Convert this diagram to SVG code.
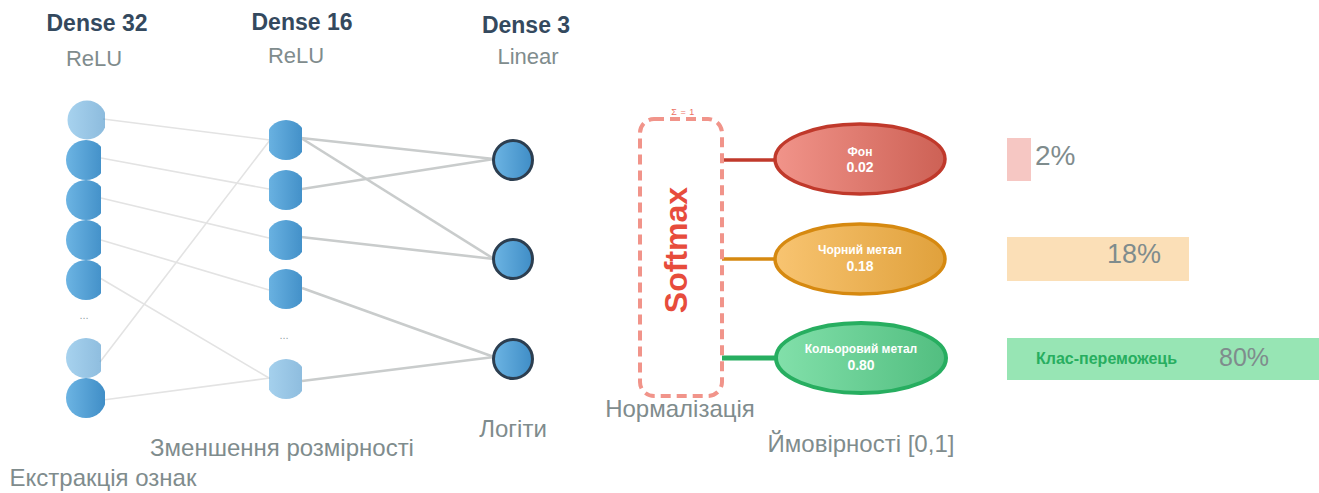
<svg xmlns="http://www.w3.org/2000/svg" width="1319" height="493" viewBox="0 0 1319 493">
  <style>
    .title { font-family: "Liberation Sans", Arial, sans-serif; font-weight: bold; font-size: 23px; fill: #34495e; text-anchor: middle; }
    .act { font-family: "Liberation Sans", Arial, sans-serif; font-size: 22px; fill: #7f8c8d; text-anchor: middle; }
    .cap { font-family: "Liberation Sans", Arial, sans-serif; font-size: 24px; fill: #7f8c8d; text-anchor: middle; }
    .dots { font-family: "Liberation Sans", Arial, sans-serif; font-size: 11px; fill: #95a5a6; text-anchor: middle; }
    .etxt { font-family: "Liberation Sans", Arial, sans-serif; font-weight: bold; fill: #ffffff; text-anchor: middle; }
    .pct { font-family: "Liberation Sans", Arial, sans-serif; fill: #7f8c8d; }
    .w1 { stroke: #e3e3e3; stroke-width: 1.6; fill: none; }
    .w2 { stroke: #c9cccc; stroke-width: 2.6; fill: none; }
    .n { fill: url(#blue); }
    .nl { fill: url(#blue); opacity: 0.6; }
    .out { fill: url(#blue); stroke: #2c3e50; stroke-width: 3; }
  </style>
  <defs>
    <linearGradient id="blue" x1="0" y1="0" x2="1" y2="0">
      <stop offset="0" stop-color="#6cb4e3"/>
      <stop offset="1" stop-color="#3f8dc6"/>
    </linearGradient>
    <linearGradient id="gRed" x1="0" y1="0" x2="1" y2="0">
      <stop offset="0" stop-color="#f1948a"/>
      <stop offset="1" stop-color="#cd6155"/>
    </linearGradient>
    <linearGradient id="gOrange" x1="0" y1="0" x2="1" y2="0">
      <stop offset="0" stop-color="#f8c471"/>
      <stop offset="1" stop-color="#e0a13c"/>
    </linearGradient>
    <linearGradient id="gGreen" x1="0" y1="0" x2="1" y2="0">
      <stop offset="0" stop-color="#82e0aa"/>
      <stop offset="1" stop-color="#52be80"/>
    </linearGradient>
    <clipPath id="clip1"><rect x="60" y="90" width="41" height="330"/></clipPath>
    <clipPath id="clip1w"><rect x="60" y="90" width="45" height="330"/></clipPath>
    <clipPath id="clip2"><rect x="269" y="100" width="33" height="310"/></clipPath>
  </defs>

  <!-- layer headings -->
  <g id="headings">
    <text class="title" x="97" y="31">Dense 32</text>
    <text class="act" x="94" y="66">ReLU</text>
    <text class="title" x="302" y="30">Dense 16</text>
    <text class="act" x="296" y="63">ReLU</text>
    <text class="title" x="526" y="33">Dense 3</text>
    <text class="act" x="528" y="64">Linear</text>
  </g>

  <!-- connections between layers -->
  <g id="connectors">
    <line class="w1" x1="103" y1="119" x2="270" y2="140"/>
    <line class="w1" x1="101" y1="158" x2="269" y2="189"/>
    <line class="w1" x1="101" y1="198" x2="269" y2="238"/>
    <line class="w1" x1="101" y1="240" x2="269" y2="290"/>
    <line class="w1" x1="100" y1="278" x2="269" y2="378"/>
    <line class="w1" x1="100" y1="362" x2="270" y2="140"/>
    <line class="w1" x1="103" y1="400" x2="270" y2="378"/>

    <line class="w2" x1="301" y1="138" x2="494" y2="159"/>
    <line class="w2" x1="301" y1="138" x2="494" y2="259"/>
    <line class="w2" x1="302" y1="189" x2="494" y2="159"/>
    <line class="w2" x1="301" y1="237" x2="494" y2="259"/>
    <line class="w2" x1="302" y1="288" x2="494" y2="357"/>
    <line class="w2" x1="302" y1="381" x2="494" y2="357"/>

    <line x1="722" y1="160" x2="777" y2="160" stroke="#c0392b" stroke-width="3.5"/>
    <line x1="722" y1="259" x2="777" y2="259" stroke="#d68910" stroke-width="3.5"/>
    <line x1="722" y1="358" x2="777" y2="358" stroke="#27ae60" stroke-width="5"/>
  </g>

  <!-- Dense 32 layer -->
  <g id="layer-32">
    <circle class="nl" cx="87" cy="120" r="19.5" clip-path="url(#clip1w)"/>
    <circle class="n" cx="86" cy="160" r="20" clip-path="url(#clip1)"/>
    <circle class="n" cx="86" cy="200" r="20" clip-path="url(#clip1)"/>
    <circle class="n" cx="86" cy="240" r="20" clip-path="url(#clip1)"/>
    <circle class="n" cx="86" cy="280" r="20" clip-path="url(#clip1)"/>
    <text class="dots" x="84" y="319">...</text>
    <circle class="nl" cx="86" cy="358" r="20" clip-path="url(#clip1)"/>
    <circle class="n" cx="86" cy="398" r="20" clip-path="url(#clip1w)"/>
  </g>

  <!-- Dense 16 layer -->
  <g id="layer-16">
    <circle class="n" cx="286" cy="140" r="20" clip-path="url(#clip2)"/>
    <circle class="n" cx="286" cy="190" r="20" clip-path="url(#clip2)"/>
    <circle class="n" cx="286" cy="240" r="20" clip-path="url(#clip2)"/>
    <circle class="n" cx="286" cy="289" r="20" clip-path="url(#clip2)"/>
    <text class="dots" x="284" y="339">...</text>
    <circle class="nl" cx="286" cy="379" r="20" clip-path="url(#clip2)"/>
  </g>

  <!-- Dense 3 output logits -->
  <g id="layer-3">
    <circle class="out" cx="513" cy="160" r="19.5"/>
    <circle class="out" cx="513" cy="259" r="19.5"/>
    <circle class="out" cx="513" cy="359" r="19.5"/>
  </g>

  <!-- softmax block -->
  <g id="softmax">
    <rect x="640" y="119" width="82" height="277" rx="14" fill="none" stroke="#f1948a" stroke-width="4" stroke-dasharray="10 6"/>
    <text x="683" y="115" font-family="Liberation Sans, Arial, sans-serif" font-size="9" fill="#ec7063" text-anchor="middle" letter-spacing="0.5">Σ = 1</text>
    <text transform="translate(687,250) rotate(-90)" font-family="Liberation Sans, Arial, sans-serif" font-weight="bold" font-size="32" fill="#e74c3c" text-anchor="middle">Softmax</text>
  </g>

  <!-- class probabilities -->
  <g id="class-background">
    <ellipse cx="860" cy="159" rx="85" ry="35" fill="url(#gRed)" stroke="#c0392b" stroke-width="3.5"/>
    <text class="etxt" x="860" y="156" font-size="12">Фон</text>
    <text class="etxt" x="860" y="172" font-size="14">0.02</text>
  </g>
  <g id="class-ferrous">
    <ellipse cx="860" cy="259" rx="85" ry="35" fill="url(#gOrange)" stroke="#d68910" stroke-width="3.5"/>
    <text class="etxt" x="860" y="254" font-size="12">Чорний метал</text>
    <text class="etxt" x="860" y="271" font-size="14">0.18</text>
  </g>
  <g id="class-nonferrous">
    <ellipse cx="861" cy="358" rx="85" ry="35" fill="url(#gGreen)" stroke="#27ae60" stroke-width="4"/>
    <text class="etxt" x="861" y="353" font-size="12">Кольоровий метал</text>
    <text class="etxt" x="861" y="370" font-size="14">0.80</text>
  </g>

  <!-- probability bars -->
  <g id="bar-background">
    <rect x="1007" y="138" width="24" height="43" fill="#f6c7c3"/>
    <text class="pct" x="1035" y="165" font-size="28">2%</text>
  </g>
  <g id="bar-ferrous">
    <rect x="1007" y="237" width="182" height="44" fill="#fbdfb7"/>
    <text class="pct" x="1107" y="263" font-size="27">18%</text>
  </g>
  <g id="bar-nonferrous">
    <rect x="1007" y="338" width="312" height="42" fill="#97e5b4"/>
    <text x="1036" y="364" font-family="Liberation Sans, Arial, sans-serif" font-weight="bold" font-size="16" fill="#27ae60">Клас-переможець</text>
    <text class="pct" x="1219" y="366" font-size="25">80%</text>
  </g>

  <!-- stage captions -->
  <g id="captions">
    <text class="cap" x="103" y="486">Екстракція ознак</text>
    <text class="cap" x="282" y="456">Зменшення розмірності</text>
    <text class="cap" x="513" y="437">Логіти</text>
    <text class="cap" x="680" y="417">Нормалізація</text>
    <text class="cap" x="861" y="452">Ймовірності [0,1]</text>
  </g>
</svg>
